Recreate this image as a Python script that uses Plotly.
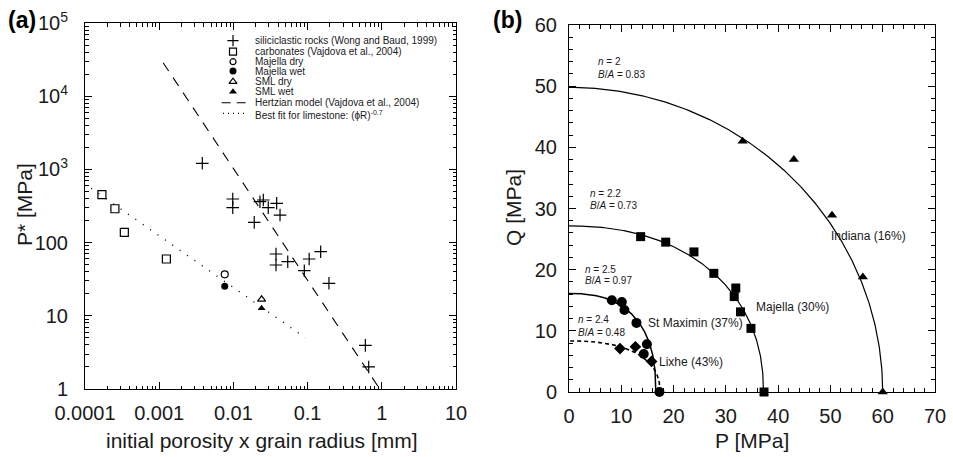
import numpy as np
import plotly.graph_objects as go

# ---------------- Panel (a) data ----------------
silic_x = [0.00381, 0.0098, 0.0098, 0.0191, 0.0228, 0.0253, 0.0295, 0.0383, 0.0425,
           0.0375, 0.0375, 0.054, 0.105, 0.150, 0.0903, 0.194, 0.600, 0.666]
silic_y = [1211, 394, 300, 189, 362, 382, 300, 344, 238,
           69.9, 49.4, 54.8, 59.7, 75.1, 41.3, 27.8, 3.95, 2.0]
carb_x = [0.000169, 0.000253, 0.000339, 0.00125]
carb_y = [451, 290, 138, 59.7]
majella_dry_x = [0.00764]
majella_dry_y = [36.9]
majella_wet_x = [0.00764]
majella_wet_y = [25.3]
sml_dry_x = [0.024]
sml_dry_y = [16.8]
sml_wet_x = [0.024]
sml_wet_y = [12.7]
hertz_x = [0.00113, 0.898]
hertz_y = [28700, 1.07]
fit_x = [0.000121, 0.0931]
fit_y = [552, 5.02]

a_xtick_vals = [1e-4, 1e-3, 1e-2, 1e-1, 1, 10]
a_xtick_text = ["0.0001", "0.001", "0.01", "0.1", "1", "10"]
a_ytick_vals = [1, 10, 100, 1e3, 1e4, 1e5]
a_ytick_text = ["1", "10", "100", "10<sup>3</sup>", "10<sup>4</sup>", "10<sup>5</sup>"]

legend_labels = ["siliciclastic rocks (Wong and Baud, 1999)",
                 "carbonates (Vajdova et al., 2004)",
                 "Majella dry", "Majella wet", "SML dry", "SML wet",
                 "Hertzian model (Vajdova et al., 2004)",
                 "Best fit for limestone: (\u03d5R)<sup>-0.7</sup>"]

# ---------------- Panel (b) data ----------------
indiana_P = [33.2, 43.0, 50.3, 56.2, 60.0]
indiana_Q = [41.0, 38.0, 28.9, 18.8, 0.0]
majella_P = [13.7, 18.5, 23.9, 27.7, 31.9, 31.6, 32.8, 34.8, 37.3]
majella_Q = [25.4, 24.5, 22.9, 19.4, 17.0, 15.6, 13.1, 10.4, 0.0]
stmax_P = [8.2, 10.1, 10.6, 12.9, 14.9, 14.3, 17.3]
stmax_Q = [15.0, 14.7, 13.4, 11.3, 7.8, 6.2, 0.0]
lixhe_P = [9.75, 12.7, 15.8]
lixhe_Q = [7.1, 7.4, 5.0]

cap_names = ["Indiana (16%)", "Majella (30%)", "St Maximin (37%)", "Lixhe (43%)"]
cap_n = [2.0, 2.2, 2.5, 2.4]
cap_ratio = [0.83, 0.73, 0.97, 0.48]
cap_A = [60.0, 37.2, 16.6, 17.4]

W, H = 953, 457
FONT = "Liberation Sans, Arial, sans-serif"
TXT = "#1a1a1a"

def px_x(p):
    return p / W

def px_y(p):
    return 1 - p / H

fig = go.Figure()

# ---- panel (a) traces ----
fig.add_trace(go.Scatter(x=hertz_x, y=hertz_y, mode="lines", xaxis="x", yaxis="y",
                         line=dict(color="black", width=1.1, dash="10px,8px"), showlegend=False))
fig.add_trace(go.Scatter(x=fit_x, y=fit_y, mode="lines", xaxis="x", yaxis="y",
                         line=dict(color="black", width=1.4, dash="1px,8px"), showlegend=False))
fig.add_trace(go.Scatter(x=silic_x, y=silic_y, mode="markers", xaxis="x", yaxis="y",
                         marker=dict(symbol="cross-thin-open", size=9, color="black",
                                     line=dict(color="black", width=1.2)),
                         showlegend=False))
fig.add_trace(go.Scatter(x=carb_x, y=carb_y, mode="markers", xaxis="x", yaxis="y",
                         marker=dict(symbol="square-open", size=8, color="black", line=dict(width=1.2)),
                         showlegend=False))
fig.add_trace(go.Scatter(x=majella_dry_x, y=majella_dry_y, mode="markers", xaxis="x", yaxis="y",
                         marker=dict(symbol="circle-open", size=7, color="black", line=dict(width=1.2)),
                         showlegend=False))
fig.add_trace(go.Scatter(x=majella_wet_x, y=majella_wet_y, mode="markers", xaxis="x", yaxis="y",
                         marker=dict(symbol="circle", size=7, color="black"), showlegend=False))
fig.add_trace(go.Scatter(x=sml_dry_x, y=sml_dry_y, mode="markers", xaxis="x", yaxis="y",
                         marker=dict(symbol="triangle-up-open", size=7, color="black", line=dict(width=1.2)),
                         showlegend=False))
fig.add_trace(go.Scatter(x=sml_wet_x, y=sml_wet_y, mode="markers", xaxis="x", yaxis="y",
                         marker=dict(symbol="triangle-up", size=7, color="black"), showlegend=False))

# ---- panel (b) caps ----
cap_dash = ["solid", "solid", "solid", "4px,3px"]
cap_width = [1.2, 1.2, 1.5, 1.6]
t = np.linspace(0, np.pi / 2, 300)
for A, r, n, d, w in zip(cap_A, cap_ratio, cap_n, cap_dash, cap_width):
    B = r * A
    P = A * np.cos(t) ** (2.0 / n)
    Q = B * np.sin(t) ** (2.0 / n)
    fig.add_trace(go.Scatter(x=P, y=Q, mode="lines", xaxis="x2", yaxis="y2",
                             line=dict(color="black", width=w, dash=d), showlegend=False))

fig.add_trace(go.Scatter(x=indiana_P, y=indiana_Q, mode="markers", xaxis="x2", yaxis="y2", cliponaxis=False,
                         marker=dict(symbol="triangle-up", size=9, color="black"), showlegend=False))
fig.add_trace(go.Scatter(x=majella_P, y=majella_Q, mode="markers", xaxis="x2", yaxis="y2", cliponaxis=False,
                         marker=dict(symbol="square", size=9, color="black"), showlegend=False))
fig.add_trace(go.Scatter(x=stmax_P, y=stmax_Q, mode="markers", xaxis="x2", yaxis="y2", cliponaxis=False,
                         marker=dict(symbol="circle", size=10, color="black"), showlegend=False))
fig.add_trace(go.Scatter(x=lixhe_P, y=lixhe_Q, mode="markers", xaxis="x2", yaxis="y2", cliponaxis=False,
                         marker=dict(symbol="diamond", size=9, color="black"), showlegend=False))

# ---- manual legend for panel (a) on an overlay axis in pixel units ----
leg_rows = [40.7, 51.7, 61.7, 71.0, 81.7, 91.7, 102.7, 115.3]
leg_mx = 233
leg_tx = 252.7
leg_syms = [("cross-thin-open", 8, 1.2), ("square-open", 7, 1.2), ("circle-open", 6, 1.2),
            ("circle", 7, 0), ("triangle-up-open", 7, 1.2), ("triangle-up", 7, 0)]
for (sym, sz, lw), yy in zip(leg_syms, leg_rows[:6]):
    fig.add_trace(go.Scatter(x=[leg_mx], y=[yy], mode="markers", xaxis="x3", yaxis="y3",
                             marker=dict(symbol=sym, size=sz, color="black", line=dict(width=lw, color="black")),
                             showlegend=False, hoverinfo="skip"))
fig.add_trace(go.Scatter(x=[221.7, 246], y=[leg_rows[6], leg_rows[6]], mode="lines", xaxis="x3", yaxis="y3",
                         line=dict(color="black", width=1.1, dash="9px,6px"), showlegend=False, hoverinfo="skip"))
fig.add_trace(go.Scatter(x=[223, 246], y=[leg_rows[7] - 2, leg_rows[7] - 2], mode="lines", xaxis="x3", yaxis="y3",
                         line=dict(color="black", width=1.2, dash="1px,4px"), showlegend=False, hoverinfo="skip"))

annotations = []
for lab, yy in zip(legend_labels, leg_rows):
    annotations.append(dict(x=leg_tx, y=yy, xref="x3", yref="y3", text=lab, showarrow=False,
                            xanchor="left", yanchor="middle", font=dict(family=FONT, size=10, color=TXT)))

# panel letters
annotations.append(dict(x=px_x(6), y=px_y(20), xref="paper", yref="paper", text="<b>(a)</b>", showarrow=False,
                        xanchor="left", yanchor="middle", font=dict(family=FONT, size=23, color="black")))
annotations.append(dict(x=px_x(491), y=px_y(20), xref="paper", yref="paper", text="<b>(b)</b>", showarrow=False,
                        xanchor="left", yanchor="middle", font=dict(family=FONT, size=23, color="black")))

# axis titles
annotations.append(dict(x=px_x(24), y=px_y(205), xref="paper", yref="paper", text="P* [MPa]", showarrow=False,
                        textangle=-90, xanchor="center", yanchor="middle", font=dict(family=FONT, size=21, color=TXT)))
annotations.append(dict(x=px_x(262), y=px_y(440), xref="paper", yref="paper",
                        text="initial porosity x grain radius [mm]", showarrow=False,
                        xanchor="center", yanchor="middle", font=dict(family=FONT, size=21, color=TXT)))
annotations.append(dict(x=px_x(513), y=px_y(208), xref="paper", yref="paper", text="Q [MPa]", showarrow=False,
                        textangle=-90, xanchor="center", yanchor="middle", font=dict(family=FONT, size=21, color=TXT)))
annotations.append(dict(x=px_x(752), y=px_y(440), xref="paper", yref="paper", text="P [MPa]", showarrow=False,
                        xanchor="center", yanchor="middle", font=dict(family=FONT, size=21, color=TXT)))

# n and B/A labels
nlab_pos = [(596, 61, 74.3), (588, 193.3, 205), (583, 269.3, 280.7), (576, 319.3, 332.7)]
for (xx, y1, y2), n, r in zip(nlab_pos, cap_n, cap_ratio):
    ntxt = ("%g" % n)
    annotations.append(dict(x=xx, y=y1, xref="x3", yref="y3", text="<i>n</i> = " + ntxt, showarrow=False,
                            xanchor="left", yanchor="middle", font=dict(family=FONT, size=10, color=TXT)))
    annotations.append(dict(x=xx, y=y2, xref="x3", yref="y3", text="<i>B</i>/<i>A</i> = %.2f" % r,
                            showarrow=False, xanchor="left", yanchor="middle",
                            font=dict(family=FONT, size=10, color=TXT)))

# curve labels
clab_pos = [(829, 236), (754, 307), (645.7, 322.7), (657.3, 361.7)]
for (xx, yy), nm in zip(clab_pos, cap_names):
    annotations.append(dict(x=xx, y=yy, xref="x3", yref="y3", text=nm, showarrow=False,
                            xanchor="left", yanchor="middle", font=dict(family=FONT, size=12, color=TXT)))

# minor ticks for log axes
a_xminor = [m * 10.0 ** e for e in range(-4, 1) for m in range(2, 10)]
a_yminor = [m * 10.0 ** e for e in range(0, 5) for m in range(2, 10)]

axis_common = dict(showline=True, linecolor="black", linewidth=1, mirror="ticks", ticks="inside",
                   tickcolor="black", showgrid=False, zeroline=False, automargin=False,
                   tickfont=dict(family=FONT, size=20, color=TXT))

fig.update_layout(
    width=W, height=H, margin=dict(l=0, r=0, t=0, b=0), template="none",
    paper_bgcolor="white", plot_bgcolor="rgba(0,0,0,0)", showlegend=False,
    font=dict(family=FONT),
    xaxis=dict(type="log", range=[-4, 1], domain=[px_x(85), px_x(456)], anchor="y",
               tickvals=a_xtick_vals, ticktext=a_xtick_text, ticklen=7, ticklabelstandoff=6,
               minor=dict(tickvals=a_xminor, ticks="inside", ticklen=3.5, tickcolor="black", showgrid=False),
               **axis_common),
    yaxis=dict(type="log", range=[0, 5], domain=[px_y(389), px_y(23)], anchor="x",
               tickvals=a_ytick_vals, ticktext=a_ytick_text, ticklen=7, ticklabelstandoff=12,
               minor=dict(tickvals=a_yminor, ticks="inside", ticklen=3.5, tickcolor="black", showgrid=False),
               **axis_common),
    xaxis2=dict(range=[0, 70], domain=[px_x(569), px_x(935)], anchor="y2", dtick=10, ticklen=7,
                ticklabelstandoff=6,
                minor=dict(dtick=2, ticks="inside", ticklen=4, tickcolor="black", showgrid=False),
                **axis_common),
    yaxis2=dict(range=[0, 60], domain=[px_y(392), px_y(25)], anchor="x2", dtick=10, ticklen=7,
                ticklabelstandoff=7,
                minor=dict(dtick=2, ticks="inside", ticklen=4, tickcolor="black", showgrid=False),
                **axis_common),
    xaxis3=dict(range=[0, W], domain=[0, 1], anchor="y3", visible=False, fixedrange=True),
    yaxis3=dict(range=[H, 0], domain=[0, 1], anchor="x3", visible=False, fixedrange=True),
    annotations=annotations,
)

fig.write_html("out.html", config={"displayModeBar": False},
               post_script="document.body.style.margin='0px';document.body.style.overflow='hidden';")
